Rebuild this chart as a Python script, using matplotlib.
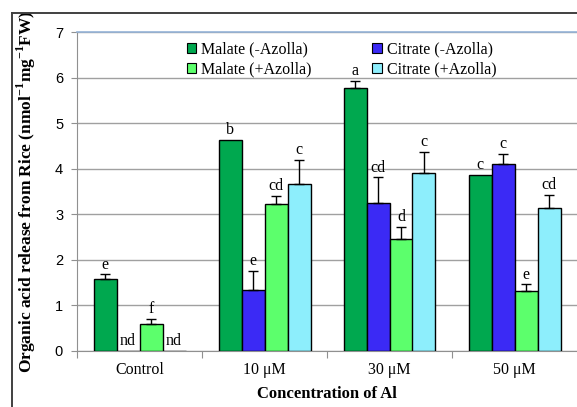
import matplotlib
matplotlib.use("Agg")
import matplotlib.pyplot as plt
import numpy as np
from matplotlib.lines import Line2D
from matplotlib.patches import Patch

CATEGORIES = ["Control", "10 \u03bcM", "30 \u03bcM", "50 \u03bcM"]
SERIES = ["Malate (-Azolla)", "Citrate (-Azolla)", "Malate (+Azolla)", "Citrate (+Azolla)"]
COLORS = ["#00A84F", "#3B2AF5", "#5CFF6C", "#8DEEFC"]

malate_minus = [1.58, 4.64, 5.78, 3.86]
citrate_minus = [0.0, 1.34, 3.25, 4.10]
malate_plus = [0.59, 3.23, 2.46, 1.31]
citrate_plus = [0.0, 3.67, 3.90, 3.14]

malate_minus_err = [0.10, 0.0, 0.15, 0.0]
citrate_minus_err = [0.0, 0.41, 0.56, 0.23]
malate_plus_err = [0.11, 0.17, 0.27, 0.15]
citrate_plus_err = [0.0, 0.52, 0.47, 0.28]

malate_minus_sig = ["e", "b", "a", "c"]
citrate_minus_sig = ["nd", "e", "cd", "c"]
malate_plus_sig = ["f", "cd", "d", "e"]
citrate_plus_sig = ["nd", "c", "c", "cd"]

values = [malate_minus, citrate_minus, malate_plus, citrate_plus]
errors = [malate_minus_err, citrate_minus_err, malate_plus_err, citrate_plus_err]
letters = [malate_minus_sig, citrate_minus_sig, malate_plus_sig, citrate_plus_sig]

plt.rcParams["font.family"] = ["Liberation Serif", "DejaVu Serif"]
plt.rcParams["mathtext.fontset"] = "custom"
plt.rcParams["mathtext.rm"] = "Liberation Serif"
plt.rcParams["mathtext.bf"] = "Liberation Serif:bold"

fig = plt.figure(figsize=(5.77, 4.07), dpi=100)
ax = fig.add_axes([77 / 577, 56 / 407, 500 / 577, 319 / 407])

x = np.arange(len(CATEGORIES))
width = 0.184
for i, (vals, errs, sig, color) in enumerate(zip(values, errors, letters, COLORS)):
    pos = x + (i - 1.5) * width
    ax.bar(pos, vals, width, color=color, edgecolor="black", linewidth=1.0, zorder=3)
    for p, v, e, s in zip(pos, vals, errs, sig):
        if s == "nd":
            ax.text(p, 0.04, s, ha="center", va="bottom", fontsize=11.5, zorder=4)
            continue
        if e > 0:
            ax.errorbar(p, v, yerr=[[0], [e]], fmt="none", ecolor="black",
                        elinewidth=1.0, capsize=3.5, capthick=1.0, zorder=4)
        ax.text(p, v + e + 0.04, s, ha="center", va="bottom", fontsize=11.5, zorder=4)

ax.set_xlim(-0.5, 3.5)
ax.set_ylim(0, 7)
ax.set_yticks(range(8))
ax.set_yticklabels([str(t) for t in range(8)], family="Liberation Sans", fontsize=10.5)
ax.yaxis.grid(True, color="#A0A0A0", linewidth=1.0, zorder=0)
ax.set_axisbelow(True)

ax.set_xticks([-0.5, 0.5, 1.5, 2.5])
ax.set_xticklabels([])
ax.set_xticks(x, minor=True)
ax.set_xticklabels(CATEGORIES, minor=True, fontsize=11.5)
ax.tick_params(axis="x", which="minor", length=0, pad=8)
ax.tick_params(axis="x", which="major", length=5, color="#909090")
ax.tick_params(axis="y", length=4, color="#909090", pad=6)

ax.spines["right"].set_visible(False)
ax.spines["top"].set_color("#95B3D7")
ax.spines["top"].set_linewidth(1.2)
ax.spines["left"].set_color("#909090")
ax.spines["bottom"].set_color("#909090")

ax.set_xlabel("Concentration of Al", fontsize=12, fontweight="bold", labelpad=6)
ax.set_ylabel(r"Organic acid release from Rice (nmol$^{\mathbf{-1}}$mg$^{\mathbf{-1}}$FW)",
              fontsize=12.5, fontweight="bold", labelpad=12)

handles = [Patch(facecolor=COLORS[k], edgecolor="black", linewidth=0.8) for k in [0, 2, 1, 3]]
labels = [SERIES[k] for k in [0, 2, 1, 3]]
ax.legend(handles, labels, ncol=2, loc="upper left", bbox_to_anchor=(0.2, 1.0),
          frameon=False, fontsize=11.5, handlelength=0.6, handleheight=0.6,
          handletextpad=0.3, columnspacing=3.8, labelspacing=0.25, borderaxespad=0.2)

fig.add_artist(Line2D([12 / 577, 12 / 577], [0, 1 - 13 / 407], color="#404040", linewidth=1.4))
fig.add_artist(Line2D([12 / 577, 1], [1 - 13 / 407, 1 - 13 / 407], color="#404040", linewidth=1.4))

fig.savefig("out.png", dpi=100)
